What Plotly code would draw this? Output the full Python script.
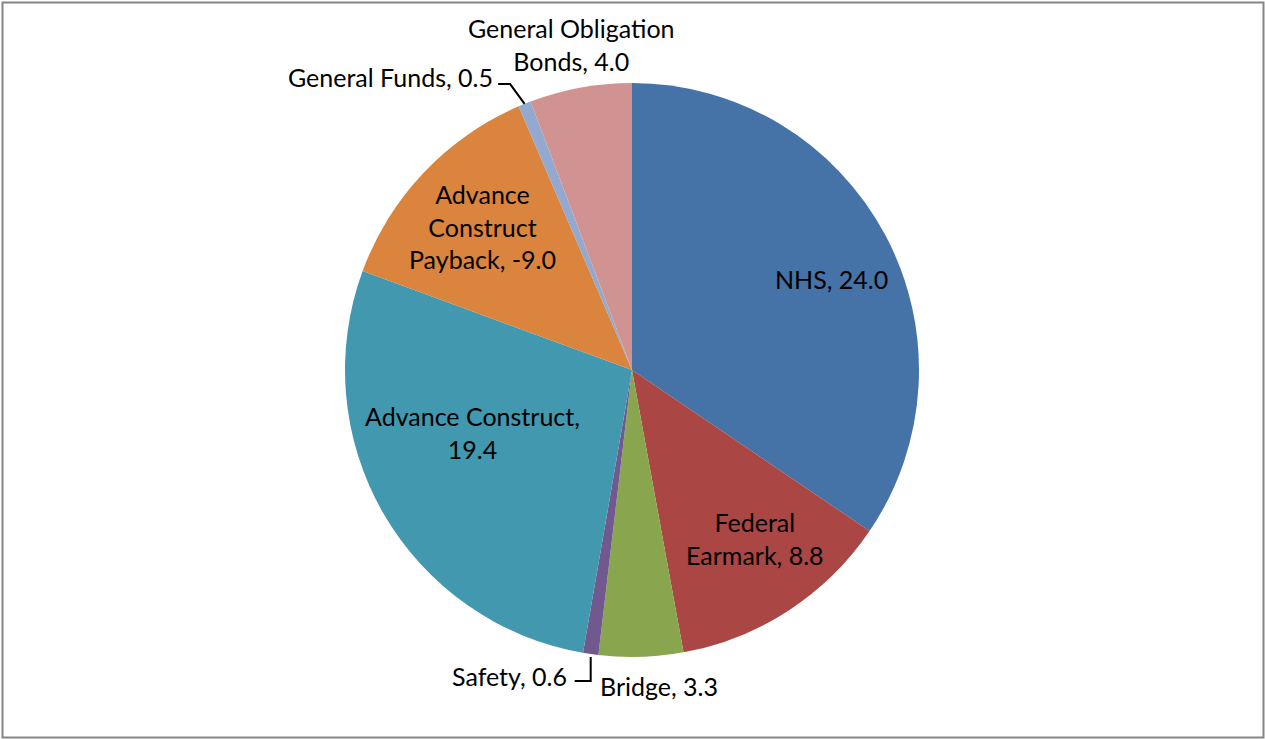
import math
import plotly.graph_objects as go

# ---------------- data ----------------
categories = ["NHS", "Federal Earmark", "Bridge", "Safety", "Advance Construct",
              "Advance Construct Payback", "General Funds", "General Obligation Bonds"]
values = [24.0, 8.8, 3.3, 0.6, 19.4, -9.0, 0.5, 4.0]
label_text = ["NHS, 24.0", "Federal<br>Earmark, 8.8", "Bridge, 3.3", "Safety, 0.6",
              "Advance Construct,<br>19.4", "Advance<br>Construct<br>Payback, -9.0",
              "General Funds, 0.5", "General Obligation<br>Bonds, 4.0"]
colors = ["#4572A7", "#AA4643", "#89A54E", "#71588F", "#4198AF",
          "#DB843D", "#93A9CF", "#D19392"]

# ---------------- geometry / layout ----------------
W, H = 1265, 739
CX, CY, R = 632, 370, 287   # pie centre and radius in pixels

sizes = [abs(v) for v in values]
total = sum(sizes)
mids = []
acc = 0.0
for s in sizes:
    mids.append((acc + s / 2) / total * 360.0)
    acc += s

def polar(angle_deg, rf):
    a = math.radians(angle_deg)
    return CX + rf * R * math.sin(a), CY - rf * R * math.cos(a)

def to_paper(px, py):
    return px / W, 1 - py / H

# label placement: (radius factor, angle offset, xanchor)
label_pos = [
    (0.766, 3.4, "center"),
    (0.726, -3.1, "center"),
    (1.105, -3.1, "center"),
    None,
    (0.596, 8.4, "center"),
    (0.722, 0.2, "center"),
    None,
    (1.152, -0.2, "center"),
]

fig = go.Figure()
fig.add_trace(go.Pie(
    labels=categories,
    values=sizes,
    sort=False,
    direction="clockwise",
    rotation=0,
    marker=dict(colors=colors, line=dict(width=0)),
    textinfo="none",
    hoverinfo="label+value",
    showlegend=False,
    domain=dict(x=[(CX - R) / W, (CX + R) / W], y=[1 - (CY + R) / H, 1 - (CY - R) / H]),
))

FONT = dict(family="Lato, Calibri, sans-serif", size=25, color="#000000")
annotations = []
shapes = []
for i, lp in enumerate(label_pos):
    if lp is None:
        continue
    rf, dth, xa = lp
    px, py = polar(mids[i] + dth, rf)
    x, y = to_paper(px, py)
    annotations.append(dict(x=x, y=y, xref="paper", yref="paper", text=label_text[i],
                            showarrow=False, xanchor=xa, yanchor="middle",
                            align="center", font=FONT))

# Safety: leader line goes down from slice edge then left
i = 3
p0 = polar(mids[i], 1.0)
p0 = (p0[0], p0[1] + 3)
p1 = (p0[0], 681)
p2 = (p1[0] - 16, 681)
path = "M {} {} L {} {} L {} {}".format(*to_paper(*p0), *to_paper(*p1), *to_paper(*p2))
shapes.append(dict(type="path", xref="paper", yref="paper", path=path,
                   line=dict(color="#000000", width=2)))
x, y = to_paper(p2[0] - 6, 676)
annotations.append(dict(x=x, y=y, xref="paper", yref="paper", text=label_text[i],
                        showarrow=False, xanchor="right", yanchor="middle", font=FONT))

# General Funds: leader line diagonal up-left then horizontal
i = 6
p0 = polar(mids[i], 1.0)
p1 = polar(mids[i] - 1.1, 1.083)
p2 = (p1[0] - 12, p1[1])
path = "M {} {} L {} {} L {} {}".format(*to_paper(*p0), *to_paper(*p1), *to_paper(*p2))
shapes.append(dict(type="path", xref="paper", yref="paper", path=path,
                   line=dict(color="#000000", width=2)))
x, y = to_paper(p2[0] - 3, 77)
annotations.append(dict(x=x, y=y, xref="paper", yref="paper", text=label_text[i],
                        showarrow=False, xanchor="right", yanchor="middle", font=FONT))

# chart border
shapes.append(dict(type="rect", xref="paper", yref="paper",
                   x0=2.5 / W, x1=1263.5 / W, y0=1 - 737.5 / H, y1=1 - 2.5 / H,
                   line=dict(color="#868686", width=2)))

fig.update_layout(
    width=W, height=H,
    margin=dict(l=0, r=0, t=0, b=0),
    paper_bgcolor="#FFFFFF",
    plot_bgcolor="#FFFFFF",
    annotations=annotations,
    shapes=shapes,
)

fig.write_html("out.html",
               config={"displayModeBar": False},
               post_script="document.body.style.margin='0';document.body.style.overflow='hidden';")
